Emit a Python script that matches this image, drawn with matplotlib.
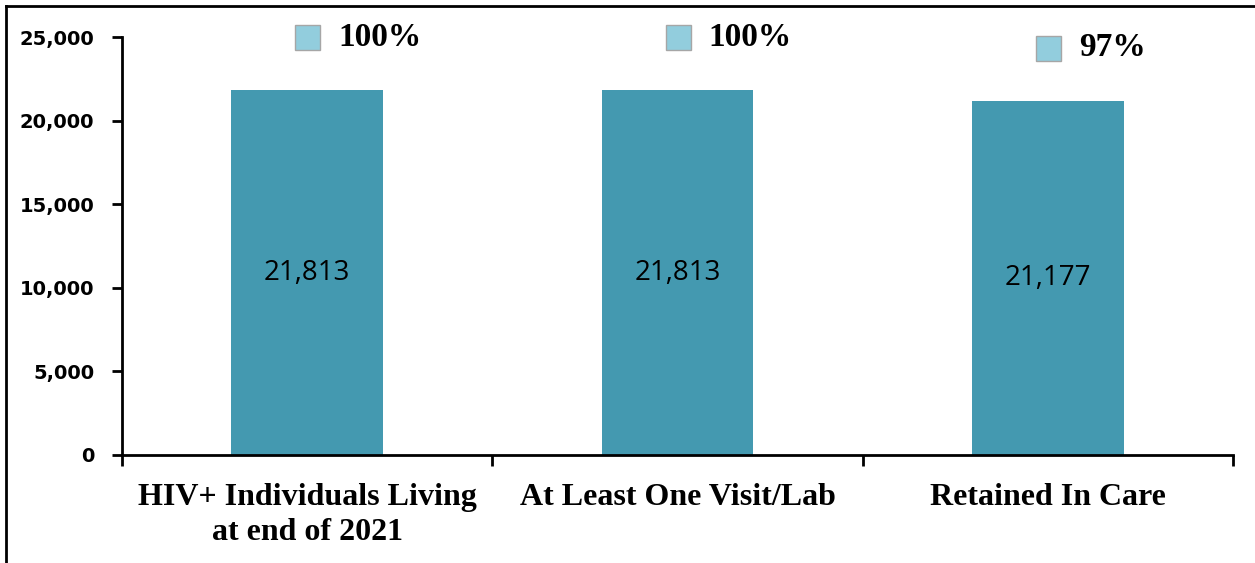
import matplotlib.pyplot as plt
from matplotlib.lines import Line2D

# ---- data ----
categories = ['HIV+ Individuals Living\nat end of 2021', 'At Least One Visit/Lab', 'Retained In Care']
counts = [21813, 21813, 21177]
pct_labels = ['100%', '100%', '97%']
yticks = [0, 5000, 10000, 15000, 20000, 25000]

bar_color = '#4499B0'
key_color = '#92CDDD'

fig = plt.figure(figsize=(12.55, 5.63), dpi=100)
ax = fig.add_axes([122 / 1255, 108 / 563, 1111 / 1255, 418 / 563])

x = list(range(len(categories)))
ax.bar(x, counts, width=0.41, color=bar_color, zorder=2)

# value labels in the middle of the bars
for xi, v in zip(x, counts):
    ax.text(xi, v / 2, f'{v:,}', ha='center', va='center', fontsize=20,
            family='Open Sans', color='black', zorder=3)

# percentage labels with a legend-like key above each bar
for xi, v, p in zip(x, counts, pct_labels):
    ax.plot([xi], [v + 53 / 418 * 25000], marker='s', markersize=18,
            markerfacecolor=key_color, markeredgecolor='#A6A6A6', markeredgewidth=1,
            clip_on=False, zorder=4)
    ax.annotate(p, xy=(xi, v), xytext=(31, 53), textcoords='offset pixels',
                ha='left', va='center', fontsize=24, fontweight='bold',
                family='Liberation Serif', annotation_clip=False)

ax.set_xlim(-0.5, 2.5)
ax.set_ylim(0, 25000)
ax.set_yticks(yticks)
ax.set_yticklabels([f'{t:,}' for t in yticks], fontsize=14, fontweight='bold',
                   family='DejaVu Sans')
ax.tick_params(axis='y', direction='out', length=7, width=2, pad=13)

ax.set_xticks([-0.5, 0.5, 1.5, 2.5])
ax.set_xticklabels([])
ax.set_xticks(x, minor=True)
ax.set_xticklabels(categories, minor=True, fontsize=23, fontweight='bold',
                   family='Liberation Serif', linespacing=1.3)
ax.tick_params(axis='x', which='major', direction='out', length=8, width=2)
ax.tick_params(axis='x', which='minor', length=0, pad=20)

for s in ['top', 'right']:
    ax.spines[s].set_visible(False)
for s in ['left', 'bottom']:
    ax.spines[s].set_linewidth(2)

# outer chart frame (only top and left edges visible)
fig.add_artist(Line2D([6 / 1255, 1], [1 - 6 / 563, 1 - 6 / 563], color='black', lw=2))
fig.add_artist(Line2D([6 / 1255, 6 / 1255], [0, 1 - 6 / 563], color='black', lw=2))

fig.savefig('out.png', dpi=100)
